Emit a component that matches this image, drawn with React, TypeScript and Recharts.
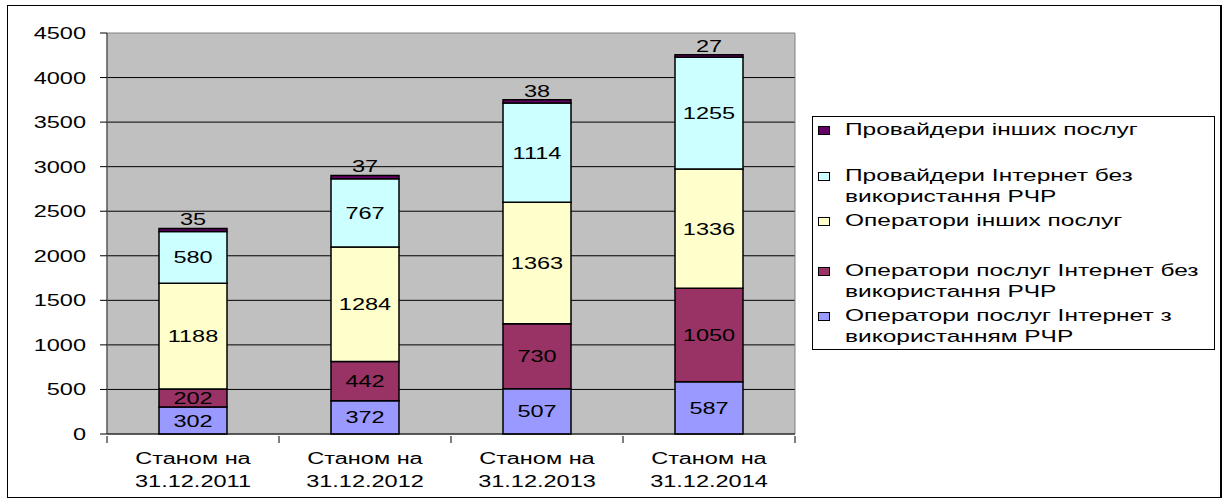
import React from 'react';
import { BarChart, Bar, XAxis, YAxis, CartesianGrid, ReferenceArea, LabelList } from 'recharts';

// dates of the four snapshots
const dates = ['31.12.2011', '31.12.2012', '31.12.2013', '31.12.2014'];

// stacked from bottom to top
const opsInternetRfr = [302, 372, 507, 587];
const opsInternetNoRfr = [202, 442, 730, 1050];
const opsOther = [1188, 1284, 1363, 1336];
const provInternetNoRfr = [580, 767, 1114, 1255];
const provOther = [35, 37, 38, 27];

const yTicks = [0, 500, 1000, 1500, 2000, 2500, 3000, 3500, 4000, 4500];

const FONT = 'Arial, "Liberation Sans", sans-serif';
const BAND = 172; // category width of the plot, for the boundary tick marks
const SX = 1.47; // the original's text is stretched sideways

const data = dates.map((d, i) => ({
  name: d,
  a: opsInternetRfr[i],
  b: opsInternetNoRfr[i],
  c: opsOther[i],
  d: provInternetNoRfr[i],
  e: provOther[i],
}));

// legend items, top to bottom as shown
const legendItems = [
  { lines: ['Провайдери інших послуг'], color: '#660066', top: 119 },
  { lines: ['Провайдери Інтернет без', 'використання РЧР'], color: '#CCFFFF', top: 165 },
  { lines: ['Оператори інших послуг'], color: '#FFFFCC', top: 210 },
  { lines: ['Оператори послуг Інтернет без', 'використання РЧР'], color: '#993366', top: 260 },
  { lines: ['Оператори послуг Інтернет з', 'використанням РЧР'], color: '#9999FF', top: 305 },
];

const Stretched = ({ x, y, anchor, children }: any) => (
  <text
    transform={`translate(${x},${y}) scale(${SX},1)`}
    x={0}
    y={0}
    textAnchor={anchor}
    fontSize={16}
    fontFamily={FONT}
    fill="#000"
  >
    {children}
  </text>
);

const XTick = (props: any) => {
  const { x, y, payload, index } = props;
  return (
    <g>
      <line x1={x - BAND / 2} y1={y - 6} x2={x - BAND / 2} y2={y + 1} stroke="#000" />
      {index === dates.length - 1 && (
        <line x1={x + BAND / 2} y1={y - 6} x2={x + BAND / 2} y2={y + 1} stroke="#000" />
      )}
      <Stretched x={x} y={y + 22} anchor="middle">Станом на</Stretched>
      <Stretched x={x} y={y + 45} anchor="middle">{payload.value}</Stretched>
    </g>
  );
};

const YTick = (props: any) => {
  const { x, y, payload } = props;
  return <Stretched x={x} y={y + 6} anchor="end">{payload.value}</Stretched>;
};

const centerLabel = (props: any) => {
  const { x, y, width, height, value } = props;
  return <Stretched x={x + width / 2} y={y + height / 2 + 6} anchor="middle">{value}</Stretched>;
};

const topLabel = (props: any) => {
  const { x, y, width, value } = props;
  return <Stretched x={x + width / 2} y={y - 3} anchor="middle">{value}</Stretched>;
};

export default function App() {
  return (
    <div style={{ position: 'absolute', left: 0, top: 0, width: 1227, height: 502, background: '#fff', fontFamily: FONT }}>
      <div
        style={{
          position: 'absolute',
          left: 7,
          top: 5,
          width: 1212,
          height: 491,
          borderTop: '1px solid #000',
          borderLeft: '1px solid #000',
          borderRight: '2px solid #000',
          borderBottom: '1px solid #000',
        }}
      />
      <div style={{ position: 'absolute', left: 0, top: 0 }}>
        <BarChart width={800} height={502} data={data} margin={{ top: 33, right: 5, left: 0, bottom: 8 }}>
          <CartesianGrid
            vertical={false}
            fill="#C0C0C0"
            fillOpacity={1}
            stroke="#000"
            horizontalValues={[500, 1000, 1500, 2000, 2500, 3000, 3500, 4000]}
          />
          <ReferenceArea y1={0} y2={4500} fill="none" stroke="#808080" strokeWidth={1} ifOverflow="visible" />
          <XAxis
            dataKey="name"
            height={60}
            axisLine={{ stroke: '#000' }}
            tickLine={false}
            interval={0}
            tick={<XTick />}
          />
          <YAxis
            width={107}
            domain={[0, 4500]}
            ticks={yTicks}
            interval={0}
            axisLine={{ stroke: '#404040' }}
            tickLine={{ stroke: '#000' }}
            tickSize={7}
            tickMargin={14}
            tick={<YTick />}
          />
          <Bar dataKey="a" stackId="s" fill="#9999FF" stroke="#000" strokeWidth={1.5} barSize={68} isAnimationActive={false}>
            <LabelList dataKey="a" content={centerLabel} />
          </Bar>
          <Bar dataKey="b" stackId="s" fill="#993366" stroke="#000" strokeWidth={1.5} barSize={68} isAnimationActive={false}>
            <LabelList dataKey="b" content={centerLabel} />
          </Bar>
          <Bar dataKey="c" stackId="s" fill="#FFFFCC" stroke="#000" strokeWidth={1.5} barSize={68} isAnimationActive={false}>
            <LabelList dataKey="c" content={centerLabel} />
          </Bar>
          <Bar dataKey="d" stackId="s" fill="#CCFFFF" stroke="#000" strokeWidth={1.5} barSize={68} isAnimationActive={false}>
            <LabelList dataKey="d" content={centerLabel} />
          </Bar>
          <Bar dataKey="e" stackId="s" fill="#660066" stroke="#000" strokeWidth={1.5} barSize={68} isAnimationActive={false}>
            <LabelList dataKey="e" content={topLabel} />
          </Bar>
        </BarChart>
      </div>
      <div
        style={{
          position: 'absolute',
          left: 812,
          top: 116,
          width: 403,
          height: 234,
          border: '1px solid #000',
          boxSizing: 'border-box',
        }}
      />
      {legendItems.map((it) => (
        <div key={it.lines[0]} style={{ position: 'absolute', left: 818, top: it.top, fontSize: 17, lineHeight: '21px', color: '#000' }}>
          <div
            style={{
              position: 'absolute',
              left: 0,
              top: 7,
              width: 10,
              height: 7,
              background: it.color,
              border: '1px solid #000',
            }}
          />
          <div
            style={{
              position: 'absolute',
              left: 27,
              top: 0,
              whiteSpace: 'nowrap',
              transform: 'scaleX(1.44)',
              transformOrigin: 'left top',
            }}
          >
            {it.lines.map((l) => (
              <div key={l}>{l}</div>
            ))}
          </div>
        </div>
      ))}
    </div>
  );
}
